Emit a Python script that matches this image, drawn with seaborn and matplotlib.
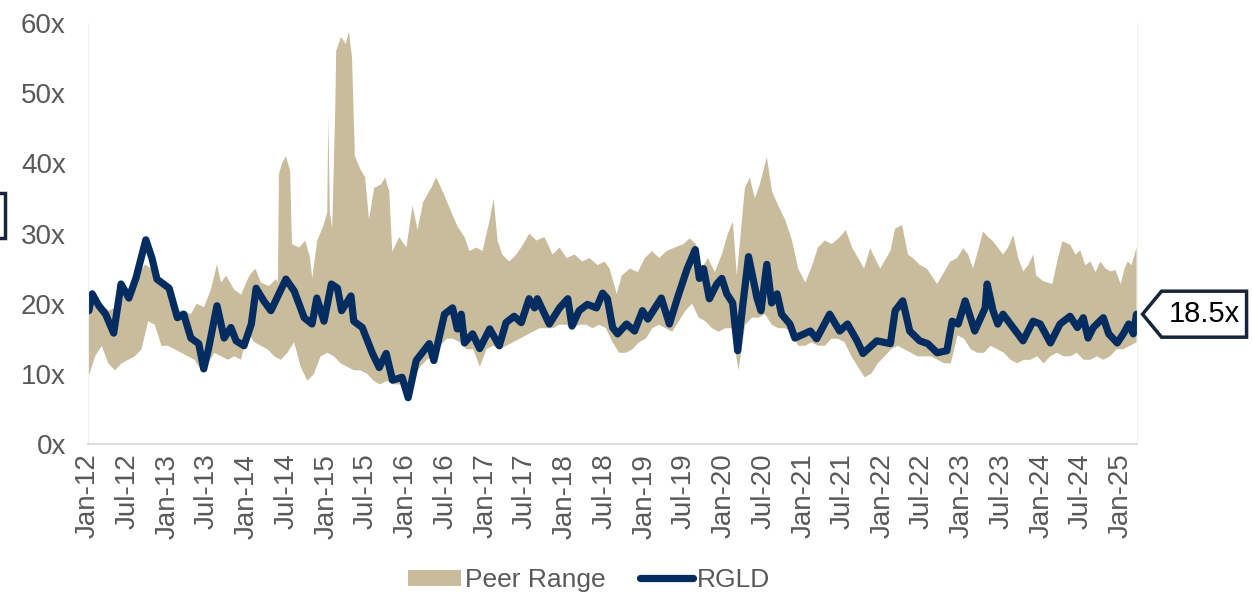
import numpy as np
import pandas as pd
import matplotlib
matplotlib.use('Agg')
import matplotlib.pyplot as plt
import matplotlib.dates as mdates
from matplotlib.patches import Patch, Polygon, Rectangle
from matplotlib.lines import Line2D
import seaborn as sns

# --- data ----------------------------------------------------------------
# top of the peer range, read at its turning points
peer_high_dates = [
    '2012-01-03', '2012-01-28', '2012-02-29', '2012-04-06', '2012-05-08', '2012-05-31',
    '2012-07-07', '2012-08-09', '2012-09-19', '2012-10-17', '2012-11-14', '2012-12-16',
    '2013-01-18', '2013-02-14', '2013-03-16', '2013-04-18', '2013-05-15', '2013-06-17',
    '2013-07-19', '2013-08-16', '2013-09-04', '2013-09-27', '2013-11-03', '2013-12-05',
    '2014-01-12', '2014-02-08', '2014-03-06', '2014-04-12', '2014-05-14', '2014-05-23',
    '2014-05-28', '2014-06-11', '2014-06-29', '2014-07-18', '2014-07-27', '2014-08-29',
    '2014-09-26', '2014-10-18', '2014-10-28', '2014-11-20', '2014-12-17',
    '2015-01-05', '2015-01-10', '2015-01-17', '2015-01-28', '2015-02-11', '2015-02-15',
    '2015-03-09', '2015-04-01', '2015-04-15', '2015-04-29', '2015-05-12', '2015-06-09',
    '2015-06-28', '2015-07-16', '2015-08-09', '2015-09-10', '2015-09-28', '2015-10-17',
    '2015-10-31', '2015-12-02',
    '2016-01-04', '2016-02-01', '2016-02-24', '2016-03-21', '2016-04-27', '2016-05-20',
    '2016-06-26', '2016-07-29', '2016-08-26', '2016-09-27', '2016-10-20', '2016-11-21',
    '2016-12-19',
    '2017-01-21', '2017-02-08', '2017-02-26', '2017-03-20', '2017-04-21', '2017-05-23',
    '2017-06-25', '2017-07-22', '2017-08-24', '2017-09-30', '2017-11-06', '2017-12-08',
    '2018-01-10', '2018-02-15', '2018-03-23', '2018-04-24', '2018-06-01', '2018-07-03',
    '2018-07-26', '2018-08-28', '2018-09-20', '2018-10-27', '2018-12-03',
    '2019-01-04', '2019-02-06', '2019-03-12', '2019-04-14', '2019-05-21', '2019-07-01',
    '2019-07-29', '2019-08-26', '2019-09-23', '2019-10-21', '2019-11-22', '2019-12-24',
    '2020-01-21', '2020-02-13', '2020-03-02', '2020-03-20', '2020-04-08', '2020-05-01',
    '2020-05-24', '2020-06-16', '2020-07-18', '2020-08-11', '2020-09-08', '2020-10-10',
    '2020-11-11', '2020-12-09',
    '2021-01-11', '2021-02-12', '2021-03-10', '2021-04-11', '2021-05-13', '2021-06-19',
    '2021-07-16', '2021-08-14', '2021-09-11', '2021-10-08', '2021-11-05', '2021-12-21',
    '2022-02-06', '2022-02-28', '2022-04-01', '2022-04-28', '2022-05-21', '2022-06-22',
    '2022-07-24', '2022-09-09', '2022-10-11', '2022-11-08', '2022-12-10',
    '2023-01-07', '2023-01-30', '2023-02-21', '2023-03-20', '2023-04-08', '2023-05-01',
    '2023-05-24', '2023-07-09', '2023-08-01', '2023-08-25', '2023-09-17', '2023-10-10',
    '2023-11-02', '2023-11-25', '2023-12-09',
    '2024-01-10', '2024-02-21', '2024-03-14', '2024-04-07', '2024-05-13', '2024-06-06',
    '2024-06-28', '2024-07-21', '2024-08-14', '2024-09-06', '2024-09-29', '2024-10-22',
    '2024-11-14', '2024-12-07', '2024-12-31',
    '2025-01-18', '2025-02-01', '2025-02-19', '2025-03-14',
]
peer_high_values = [
    20.5, 22, 20, 19, 19.5, 22.5, 21.5, 23.5, 25.6, 25, 23, 22.5,
    21, 19, 19, 18.5, 20, 19.5, 22, 25.6, 23, 24, 22, 21.3,
    24, 25, 23, 22.5, 23.5, 23, 38.5, 40, 41, 39, 28.5, 28,
    29, 26.5, 23.6, 29, 31,
    33, 46.8, 33, 30.7, 48, 56, 58, 57, 58.8, 55, 41, 39,
    38, 32, 36.5, 37, 38, 36, 27.4, 29.5,
    28, 34, 30.5, 34.5, 36.5, 38, 35.5, 33, 31, 29.5, 27.5, 28,
    27.5,
    32, 35, 29, 27, 26, 27, 28.5, 30, 29, 29.5, 27, 28,
    26.5, 27, 26, 26.5, 25.5, 26, 25, 21.4, 24, 25, 24.5,
    26.5, 27.5, 26.5, 27.5, 28, 28.5, 29.3, 28.5, 25, 26.5, 24.5, 27,
    30, 31.7, 24, 30, 36.5, 38, 35, 37, 40.9, 36, 34, 32,
    29, 25,
    23, 25.5, 28, 29, 28.5, 29.5, 30.5, 28, 26.5, 25, 27.9, 25,
    27.5, 30.7, 31.2, 27, 26.5, 25.5, 25, 22.8, 24.5, 26, 26.5,
    27.9, 27, 25, 28, 30.3, 29.5, 28.9, 27, 28, 29.8, 26.5, 24.6,
    25.5, 27, 24,
    23.2, 22.8, 26, 28.9, 28.4, 27, 27.6, 25.5, 26, 24.5, 26, 25,
    24.6, 24.8, 22.8,
    25, 26, 25.5, 28,
]

# bottom of the peer range, one value per month, Jan-12 .. Mar-25
peer_low_start = '2012-01-03'
peer_low_end = '2025-03-14'
peer_low = [
    9.5, 12.5, 14, 11.5, 10.5, 11.5, 12, 12.5, 13.5, 17.5, 17, 14,
    14, 13.5, 13, 12.5, 12, 10.5, 11.5, 13, 12.5, 12, 12.5, 12,
    16, 14.5, 14, 13.5, 12.5, 12, 13, 14.5, 11, 9, 10, 12.5,
    13, 12.5, 11.5, 11, 10.5, 10.5, 10, 9, 8.5, 9, 8.5, 8.5,
    8.5, 9.5, 11, 12, 12.5, 14, 15, 15, 14.5, 13.5, 13.5, 11,
    13.5, 14, 13.5, 14, 14.5, 15, 15.5, 16, 16.5, 16.5, 16.5, 17,
    17, 16.5, 17, 17, 16.5, 17, 16.5, 14.5, 13, 13, 13.5, 14.5,
    15, 16.5, 17, 16.5, 16, 17.5, 19, 20, 18, 17.5, 16.5, 16,
    16.5, 16.5, 10.5, 17, 18, 18, 18.5, 17, 16.5, 16.5, 16, 14,
    14, 14.5, 14, 14, 15, 15, 14.5, 12.5, 11, 9.5, 10, 11.5,
    12.5, 13.5, 14, 13.5, 13, 12.5, 12.5, 12.5, 12, 11.5, 11.5, 15.5,
    15, 13.5, 13, 13, 14, 13.5, 13, 12, 11.5, 12, 12, 12.5,
    11.5, 12.5, 13, 12.5, 12.5, 13, 12, 12, 12.5, 12, 12.5, 13.5,
    13.5, 14, 14.5,
]

# RGLD multiple, read at its turning points
rgld_dates = [
    '2012-01-05', '2012-01-20', '2012-02-20', '2012-03-22', '2012-04-28', '2012-06-01',
    '2012-07-07', '2012-08-08', '2012-09-23', '2012-10-21', '2012-11-13',
    '2013-01-08', '2013-02-15', '2013-03-16', '2013-04-18', '2013-05-24', '2013-06-16',
    '2013-07-09', '2013-08-16', '2013-09-18', '2013-10-19', '2013-11-12', '2013-12-18',
    '2014-01-21', '2014-02-12', '2014-03-19', '2014-04-21', '2014-06-29', '2014-08-06',
    '2014-09-21', '2014-10-27', '2014-11-18', '2014-12-21',
    '2015-01-24', '2015-02-21', '2015-03-12', '2015-04-24', '2015-05-07', '2015-06-15',
    '2015-08-01', '2015-09-01', '2015-10-03', '2015-11-01', '2015-12-15',
    '2016-01-12', '2016-02-18', '2016-04-18', '2016-05-09', '2016-06-27', '2016-08-03',
    '2016-08-25', '2016-09-12', '2016-09-27', '2016-11-03', '2016-12-06',
    '2017-01-21', '2017-03-06', '2017-04-06', '2017-05-13', '2017-06-15', '2017-07-21',
    '2017-08-15', '2017-08-28', '2017-10-22', '2017-12-08',
    '2018-01-15', '2018-02-03', '2018-03-08', '2018-04-15', '2018-05-27', '2018-06-24',
    '2018-07-16', '2018-08-09', '2018-09-01', '2018-10-12', '2018-11-18', '2018-12-24',
    '2019-01-18', '2019-03-21', '2019-04-27', '2019-06-03', '2019-07-18', '2019-08-24',
    '2019-09-12', '2019-10-01', '2019-10-28', '2019-12-01', '2019-12-24',
    '2020-01-16', '2020-02-12', '2020-03-06', '2020-03-28', '2020-04-25', '2020-06-03',
    '2020-06-21', '2020-07-18', '2020-08-09', '2020-09-03', '2020-09-24', '2020-11-01',
    '2020-11-24',
    '2021-02-03', '2021-03-04', '2021-05-03', '2021-06-18', '2021-07-24', '2021-09-06',
    '2021-10-03', '2021-12-06',
    '2022-02-06', '2022-02-28', '2022-04-04', '2022-05-06', '2022-06-21', '2022-07-28',
    '2022-09-09', '2022-10-24', '2022-11-17', '2022-12-15',
    '2023-01-16', '2023-03-01', '2023-04-18', '2023-04-27', '2023-05-24', '2023-06-15',
    '2023-07-09', '2023-08-24', '2023-10-09', '2023-11-24', '2023-12-27',
    '2024-02-12', '2024-03-27', '2024-05-12', '2024-06-15', '2024-07-12', '2024-08-03',
    '2024-08-27', '2024-10-12', '2024-11-06', '2024-12-15',
    '2025-01-12', '2025-02-06', '2025-02-27', '2025-03-14',
]
rgld_values = [
    19.0, 21.4, 19.7, 18.5, 15.8, 22.8, 20.8, 23.6, 29.1, 26.5, 23.5,
    22.2, 18.0, 18.5, 15.1, 14.3, 10.7, 13.7, 19.7, 15.1, 16.6, 14.7, 14.0,
    17.1, 22.2, 20.4, 19.0, 23.5, 21.8, 18.0, 17.1, 20.8, 17.5,
    22.8, 22.2, 19.0, 21.1, 17.5, 16.6, 12.9, 10.9, 12.9, 9.1, 9.5,
    6.6, 11.9, 14.3, 11.9, 18.5, 19.4, 16.4, 18.5, 14.4, 15.7, 13.6,
    16.4, 14.0, 17.3, 18.2, 17.3, 20.7, 19.4, 20.7, 17.1, 19.4,
    20.7, 16.8, 19.0, 19.9, 19.4, 21.5, 20.7, 16.6, 15.7, 17.1, 16.1, 19.0,
    17.8, 20.8, 17.1, 20.8, 25.0, 27.7, 23.6, 25.0, 20.7, 22.8, 23.6,
    21.4, 20.1, 13.3, 19.4, 26.7, 20.8, 19.0, 25.6, 20.1, 21.4, 18.5, 17.1, 15.1,
    16.1, 15.0, 18.5, 16.1, 17.1, 14.7, 12.9, 14.7,
    14.3, 19.0, 20.4, 16.1, 14.7, 14.3, 13.0, 13.3, 17.5, 17.1,
    20.4, 16.1, 19.4, 22.8, 19.0, 17.1, 18.5, 16.6, 14.7, 17.5, 17.1,
    14.4, 17.1, 18.2, 16.6, 18.0, 15.1, 16.6, 18.0, 15.7, 14.4,
    15.7, 17.1, 15.7, 18.5,
]

y_ticks = [0, 10, 20, 30, 40, 50, 60]
tick_start = '2012-01-01'
tick_end = '2025-01-01'
x_right = '2025-03-16'
last_label = '18.5x'

TAN = '#C9BC9C'
NAVY = '#032D60'
GREY = '#595959'
BOX = '#17243A'

# --- plot ------------------------------------------------------------------
sns.set_theme(style='white')
plt.rcParams['font.family'] = ['Liberation Sans', 'DejaVu Sans']

high = pd.DataFrame({'date': pd.to_datetime(peer_high_dates), 'value': peer_high_values})
low = pd.DataFrame({'date': pd.date_range(peer_low_start, peer_low_end, periods=len(peer_low)),
                    'value': peer_low})
rgld = pd.DataFrame({'date': pd.to_datetime(rgld_dates), 'value': rgld_values})

W, H = 1252, 599
fig = plt.figure(figsize=(W / 100, H / 100), dpi=100)
ax = fig.add_axes([88 / W, 1 - 444 / H, (1137 - 88) / W, (444 - 23) / H])

# peer range as one polygon: top edge forward, bottom edge back
px = np.concatenate([mdates.date2num(high['date']), mdates.date2num(low['date'])[::-1]])
py = np.concatenate([high['value'].values, low['value'].values[::-1]])
ax.fill(px, py, color=TAN, lw=0)

sns.lineplot(data=rgld, x='date', y='value', ax=ax, color=NAVY, lw=5.2,
             solid_capstyle='round', solid_joinstyle='round')

ax.set_xlim(pd.Timestamp(tick_start), pd.Timestamp(x_right))
ax.set_ylim(0, 60)
ax.set_yticks(y_ticks)
ax.set_yticklabels([f'{v}x' for v in y_ticks])
ax.set_xticks(pd.date_range(tick_start, tick_end, freq='6MS'))
ax.xaxis.set_major_formatter(mdates.DateFormatter('%b-%y'))
ax.set_xlabel('')
ax.set_ylabel('')
ax.tick_params(axis='x', length=0, labelsize=20, colors=GREY, pad=7, labelrotation=90)
ax.tick_params(axis='y', length=0, labelsize=20, colors=GREY, pad=16)

ax.spines['top'].set_visible(False)
for s in ['left', 'right']:
    ax.spines[s].set_color('#F0F0F0')
    ax.spines[s].set_linewidth(0.8)
ax.spines['bottom'].set_color('#D9D9D9')
ax.spines['bottom'].set_linewidth(1.3)

# legend below the axis
handles = [Patch(facecolor=TAN, edgecolor='none'),
           Line2D([0], [0], color=NAVY, lw=5.2, solid_capstyle='round')]
leg = fig.legend(handles, ['Peer Range', 'RGLD'], loc='center', ncol=2,
                 bbox_to_anchor=(589 / W, 1 - 580 / H), frameon=False,
                 fontsize=19, handlelength=2.0, handleheight=0.55,
                 handletextpad=0.15, columnspacing=1.3)
for t in leg.get_texts():
    t.set_color(GREY)

# callout with the latest multiple, tip at the last RGLD point
fig.canvas.draw()
tip = ax.transData.transform((mdates.date2num(pd.Timestamp(rgld_dates[-1])), rgld_values[-1]))
tx, ty = tip[0] + 6, tip[1]
pts = [(tx, ty), (tx + 19, ty + 23), (tx + 104, ty + 23), (tx + 104, ty - 23), (tx + 19, ty - 23)]
pts = [(qx / W, qy / H) for qx, qy in pts]
fig.add_artist(Polygon(pts, closed=True, transform=fig.transFigure,
                       facecolor='white', edgecolor=BOX, lw=2.5, joinstyle='miter'))
fig.text((tx + 62) / W, ty / H, last_label, ha='center', va='center',
         fontsize=21, color='black')

# box cut off at the left edge
fig.add_artist(Rectangle((-40 / W, 1 - 238 / H), 45 / W, 45 / H, transform=fig.transFigure,
                         facecolor='none', edgecolor=BOX, lw=2.5))

fig.savefig('out.png', dpi=100)
